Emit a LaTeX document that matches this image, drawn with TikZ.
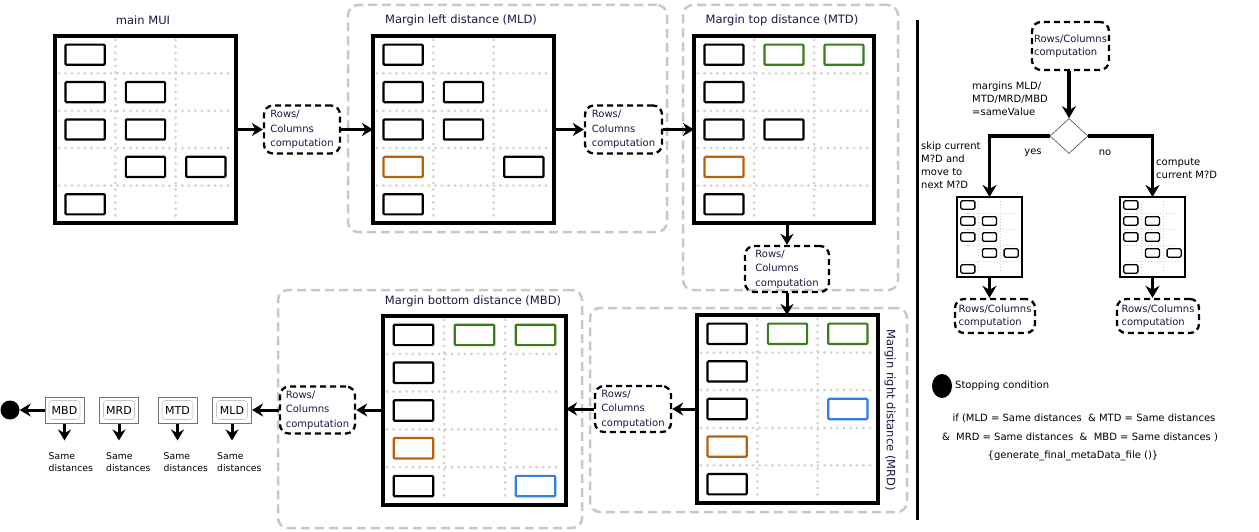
\documentclass[tikz,border=0pt]{standalone}
\usepackage{fontspec}
\setmainfont{DejaVu Sans}
\usetikzlibrary{arrows.meta,calc,shapes.geometric}
\definecolor{mgreen}{RGB}{58,125,30}
\definecolor{morange}{RGB}{185,98,12}
\definecolor{mblue}{RGB}{50,125,230}
\definecolor{navy}{RGB}{25,25,70}
\definecolor{cgray}{RGB}{200,200,200}
\definecolor{dotgray}{RGB}{210,210,210}
\tikzset{
  bigframe/.style={draw, line width=3.5pt, inner sep=0pt, outer sep=0pt},
  bigdot/.style={draw=dotgray, line width=3pt, line cap=round, dash pattern=on 0pt off 6.5pt},
  bigcell/.style={line width=2.2pt, rounded corners=1pt},
  smallframe/.style={draw, line width=2pt, inner sep=0pt, outer sep=0pt},
  smalldot/.style={draw=dotgray, line width=0.9pt, dash pattern=on 1pt off 2pt},
  smallcell/.style={line width=1.3pt, rounded corners=1.5pt},
  container/.style={draw=cgray, line width=2.5pt, dash pattern=on 9pt off 5pt, rounded corners=10pt, inner sep=0pt, outer sep=0pt},
  rc/.style={draw, line width=2.3pt, dash pattern=on 6pt off 4pt, rounded corners=9pt, align=left, text=navy, font=\fontsize{10}{14.5}\selectfont, inner sep=2pt},
  rcs/.style={rc, font=\fontsize{10}{13}\selectfont},
  arr/.style={line width=3pt, -{Stealth[length=11pt,width=13pt]}},
  arrb/.style={line width=3.6pt, -{Stealth[length=12pt,width=14pt]}},
  title/.style={text=navy, font=\fontsize{11.5}{13}\selectfont, inner sep=0pt},
  lbl/.style={align=left, font=\fontsize{10}{13}\selectfont, inner sep=0pt},
  sbox/.style={draw=black!55, line width=1pt, minimum width=39pt, minimum height=26pt, inner sep=0pt},
  sin/.style={draw=black!22, line width=0.6pt, rounded corners=3pt, minimum width=31pt, minimum height=19pt, font=\fontsize{11}{13}\selectfont, inner sep=1pt},
  same/.style={align=left, font=\fontsize{9.3}{12}\selectfont, inner sep=0pt, anchor=north west},
}
\newcommand\muigrid[7]{%
  \foreach \ii in {1,2}{\draw[#6dot] ({#2+\ii*#4/3},{#3+4}) -- ({#2+\ii*#4/3},{#3+#5-4});}%
  \foreach \jj in {1,...,4}{\draw[#6dot] ({#2+4},{#3+\jj*#5/5}) -- ({#2+#4-4},{#3+\jj*#5/5});}%
  \node[#6frame, minimum width=#4pt, minimum height=#5pt, anchor=north west] (#1) at (#2,#3) {};%
  \foreach \cc/\rr/\kk in {#7}{%
    \draw[#6cell, draw=\kk] ({#2+(\cc-0.5)*#4/3-0.325*#4/3},{#3+(\rr-0.5)*#5/5-0.27*#5/5}) rectangle ({#2+(\cc-0.5)*#4/3+0.325*#4/3},{#3+(\rr-0.5)*#5/5+0.27*#5/5});}%
}
\begin{document}
\begin{tikzpicture}[x=1pt,y=-1pt]
\useasboundingbox (0,0) rectangle (1259,532);
\fill[white] (0,0) rectangle (1259,532);

% containers
\node[container, minimum width=319pt, minimum height=227pt, anchor=north west] (cMLD) at (348,5) {};
\node[container, minimum width=215pt, minimum height=285pt, anchor=north west] (cMTD) at (683,5) {};
\node[container, minimum width=304pt, minimum height=238pt, anchor=north west] (cMBD) at (278,290) {};
\node[container, minimum width=317pt, minimum height=204pt, anchor=north west] (cMRD) at (590,308) {};

% titles
\node[title] (tMUI) at (143,20) {main MUI};
\node[title] (tMLD) at (461,20) {Margin left distance (MLD)};
\node[title] (tMTD) at (782,20) {Margin top distance (MTD)};
\node[title] (tMBD) at (473,301) {Margin bottom distance (MBD)};
\node[title, rotate=-90] (tMRD) at (890,410) {Margin right distance (MRD)};

% grids
\muigrid{gMUI}{55}{36}{181}{187}{big}{1/1/black,1/2/black,2/2/black,1/3/black,2/3/black,2/4/black,3/4/black,1/5/black}
\muigrid{gMLD}{373}{36}{181}{187}{big}{1/1/black,1/2/black,2/2/black,1/3/black,2/3/black,1/4/morange,3/4/black,1/5/black}
\muigrid{gMTD}{694}{36}{180}{187}{big}{1/1/black,2/1/mgreen,3/1/mgreen,1/2/black,1/3/black,2/3/black,1/4/morange,1/5/black}
\muigrid{gMRD}{697}{315}{181}{188}{big}{1/1/black,2/1/mgreen,3/1/mgreen,1/2/black,1/3/black,3/3/mblue,1/4/morange,1/5/black}
\muigrid{gMBD}{383}{316}{183}{189}{big}{1/1/black,2/1/mgreen,3/1/mgreen,1/2/black,1/3/black,1/4/morange,1/5/black,3/5/mblue}

% rows/columns computation boxes
\node[rc, minimum width=76pt, minimum height=48pt] (rc1) at (302,129.5) {Rows/\\Columns\\computation};
\node[rc, minimum width=77pt, minimum height=48pt] (rc2) at (623.5,129.5) {Rows/\\Columns\\computation};
\node[rc, minimum width=84pt, minimum height=46pt] (rc3) at (787,269) {Rows/\\Columns\\computation};
\node[rc, minimum width=76pt, minimum height=46pt] (rc4) at (633,409) {Rows/\\Columns\\computation};
\node[rc, minimum width=75pt, minimum height=47pt] (rc5) at (317.5,410) {Rows/\\Columns\\computation};

\draw[arr] (gMUI.east) -- (rc1.west);
\draw[arr] (rc1.east) -- (gMLD.west);
\draw[arr] (gMLD.east) -- (rc2.west);
\draw[arr] (rc2.east) -- (gMTD.west);
\draw[arr] (rc3.north |- gMTD.south) -- (rc3.north);
\draw[arr] (rc3.south) -- (rc3.south |- gMRD.north);
\draw[arr] (gMRD.west |- rc4.east) -- (rc4.east);
\draw[arr] (rc4.west) -- (rc4.west -| gMBD.east);
\draw[arr] (gMBD.west |- rc5.east) -- (rc5.east);

% bottom-left summary
\node[circle, fill=black, minimum size=19pt, inner sep=0pt] (stop) at (10,410) {};
\node[sbox] (bMBD) at (64.5,410) {}; \node[sin] (iMBD) at (bMBD) {MBD};
\node[sbox] (bMRD) at (119,410) {};  \node[sin] (iMRD) at (bMRD) {MRD};
\node[sbox] (bMTD) at (177.5,410) {}; \node[sin] (iMTD) at (bMTD) {MTD};
\node[sbox] (bMLD) at (232,410) {};  \node[sin] (iMLD) at (bMLD) {MLD};
\draw[arr] (rc5.west) -- (rc5.west -| bMLD.east);
\draw[arr] (bMBD.west) -- (stop.east);
\foreach \nm/\dx in {MBD/4,MRD/7,MTD/6,MLD/5}{
  \node[same] (s\nm) at ($(b\nm.south west)+(\dx,29)$) {Same\\distances};
  \draw[arr, shorten >=12pt] (b\nm.south) -- (b\nm.south |- s\nm.north);
}

% separator
\draw[line width=3pt] (917,20) -- (917,520);

% right flowchart
\node[rcs, minimum width=75pt, minimum height=48pt] (rcT) at (1070.5,46) {Rows/Columns\\computation};
\node[diamond, draw=black!70, line width=0.6pt, minimum width=38pt, minimum height=35pt, inner sep=0pt] (dia) at (1069,136) {};
\draw[arrb] (rcT.south -| dia.north) -- (dia.north);
\node[lbl, anchor=north west] (lcond) at (972,82) {margins MLD/\\MTD/MRD/MBD\\=sameValue};
\muigrid{gL}{957}{197}{65}{80}{small}{1/1/black,1/2/black,2/2/black,1/3/black,2/3/black,2/4/black,3/4/black,1/5/black}
\muigrid{gR}{1120}{197}{65}{80}{small}{1/1/black,1/2/black,2/2/black,1/3/black,2/3/black,2/4/black,3/4/black,1/5/black}
\draw[arrb] (dia.west) -| (gL.north);
\draw[arrb] (dia.east) -| (gR.north);
\node[lbl] (lyes) at (1033,153) {yes};
\node[lbl] (lno) at (1105,153) {no};
\node[lbl, anchor=north west] (lskip) at (921,142) {skip current\\M?D and\\move to\\next M?D};
\node[lbl, anchor=north west] (lcomp) at (1156,158) {compute\\current M?D};
\node[rcs, minimum width=80pt, minimum height=34pt] (rcL) at (995,316) {Rows/Columns\\computation};
\node[rcs, minimum width=82pt, minimum height=34pt] (rcR) at (1158,316) {Rows/Columns\\computation};
\draw[arrb] (gL.south) -- (gL.south |- rcL.north);
\draw[arrb] (gR.south) -- (gR.south |- rcR.north);

% stopping condition
\node[ellipse, fill=black, minimum width=20pt, minimum height=24pt, inner sep=0pt] (stopR) at (942,386) {};
\node[lbl, anchor=west] (stoptxt) at (955,386) {Stopping condition};
\node[lbl] (if1) at (1084,418) {if (MLD = Same distances \ \& MTD = Same distances};
\node[lbl] (if2) at (1080,437) {\& \ MRD = Same distances \ \& \ MBD = Same distances )};
\node[lbl] (if3) at (1073,456) {\{generate\_final\_metaData\_file ()\}};
\end{tikzpicture}
\end{document}
